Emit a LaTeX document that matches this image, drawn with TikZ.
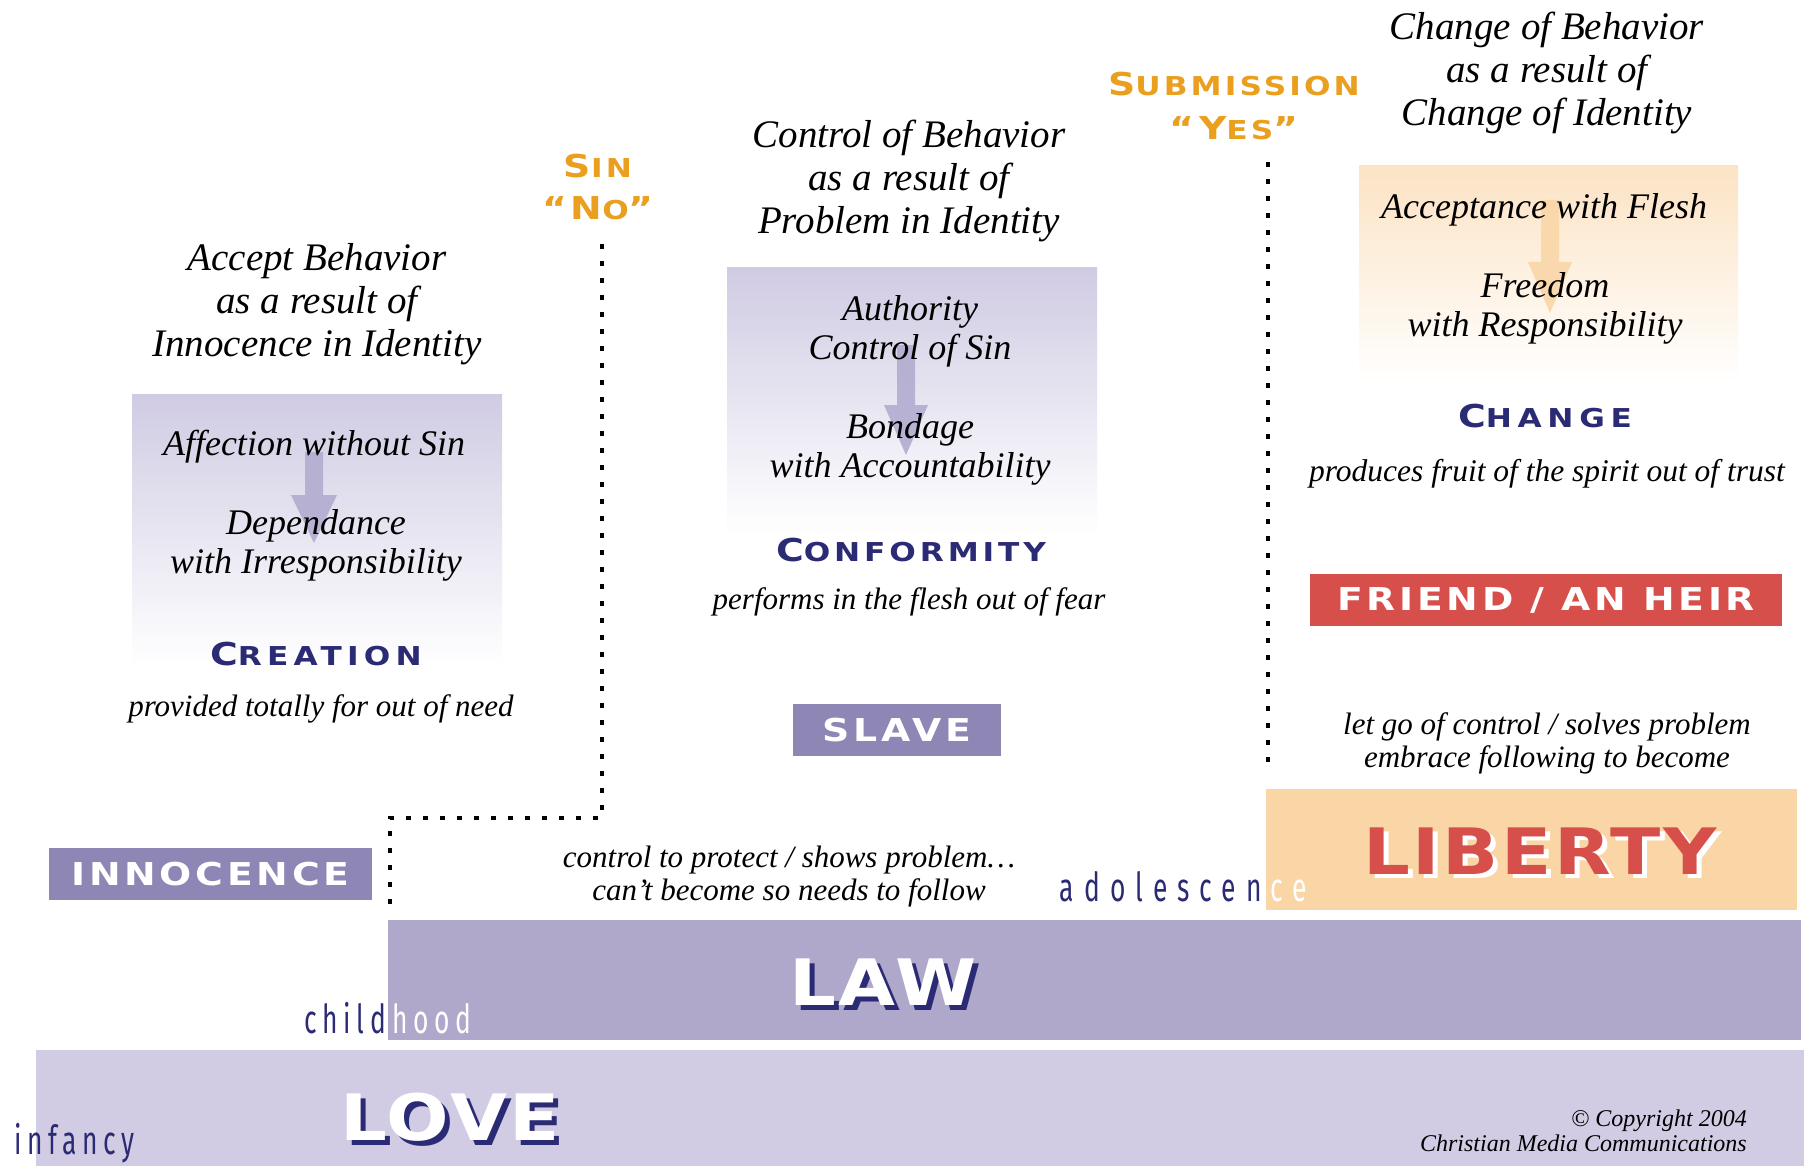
\documentclass[tikz,border=0pt]{standalone}
\usepackage{fontspec}
\setmainfont{Liberation Serif}
\newfontfamily\itf{Liberation Serif}
\newfontfamily\cpf[FakeStretch=1.2,LetterSpace=12]{DejaVu Sans}
\newfontfamily\bigf[FakeStretch=1.15,LetterSpace=4]{DejaVu Sans}
\newfontfamily\stf[FakeStretch=0.66]{Fira Sans}
\definecolor{navy}{RGB}{43,42,116}
\definecolor{orng}{RGB}{234,159,30}
\definecolor{purp}{RGB}{142,135,181}
\definecolor{lawband}{RGB}{175,168,203}
\definecolor{loveband}{RGB}{209,204,227}
\definecolor{libbg}{RGB}{250,214,166}
\definecolor{redc}{RGB}{214,79,74}
\definecolor{lavtop}{RGB}{208,203,227}
\definecolor{orgtop}{RGB}{252,227,196}
\definecolor{arrlav}{RGB}{178,172,208}
\definecolor{arrorg}{RGB}{250,214,168}
\newcommand\CPbig{\fontsize{31.5}{31.5}\selectfont}
\newcommand\CPsml{\fontsize{26}{26}\selectfont}
\newcommand\CPw[2]{{\CPbig #1}{\CPsml #2}}
\tikzset{
  hdr/.style={font=\itf\itshape\fontsize{39}{43}\selectfont, align=center, inner sep=0pt},
  inbox/.style={font=\itf\itshape\fontsize{36}{39}\selectfont, align=center, inner sep=0pt},
  capt/.style={font=\itf\itshape\fontsize{31}{33}\selectfont, align=center, inner sep=0pt},
  cpl/.style={font=\cpf\bfseries, inner sep=0pt},
  navylbl/.style={inner sep=0pt, text=navy, font=\cpf\bfseries\addfontfeature{LetterSpace=#1}},
  orglbl/.style={cpl, text=orng, align=center},
  lblbox/.style={cpl, fill=#1, text=white, minimum height=52pt, font=\cpf\bfseries\CPbig},
  bigtxt/.style={font=\bigf\bfseries\fontsize{64}{64}\selectfont, inner sep=0pt},
  stage/.style={inner sep=0pt, font=\stf\addfontfeature{LetterSpace=#1}\fontsize{40}{40}\selectfont},
  dots/.style={line width=3.5pt, dash pattern=on 5pt off 12pt, black},
  blockarrow/.style={fill=#1, opacity=0.9},
}
\begin{document}
\begin{tikzpicture}[x=1pt,y=-1pt]
\useasboundingbox (0,0) rectangle (1804,1166);
\fill[white] (0,0) rectangle (1804,1166);
% bands
\fill[loveband] (36,1050) rectangle (1804,1166);
\fill[lawband] (388,920) rectangle (1801,1040);
\fill[libbg] (1266,789) rectangle (1797,910);
% gradient boxes
\shade[top color=lavtop, bottom color=white] (132,394) rectangle (502,667);
\shade[top color=lavtop, bottom color=white] (727,268) rectangle (1097,535);
\shade[top color=orgtop, bottom color=white] (1359,166) rectangle (1738,383);
% block arrows
\fill[blockarrow=arrlav] (305,452) -- (323,452) -- (323,495) -- (337,495) -- (314,543) -- (291,495) -- (305,495) -- cycle;
\fill[blockarrow=arrlav] (897,345) -- (915,345) -- (915,405) -- (928,405) -- (906,455) -- (884,405) -- (897,405) -- cycle;
\fill[blockarrow=arrorg] (1541,200) -- (1559,200) -- (1559,262) -- (1572,262) -- (1550,313) -- (1528,262) -- (1541,262) -- cycle;
% dotted lines
\coordinate (s1) at (602,244);
\coordinate (s2) at (602,818);
\coordinate (s3) at (390,818);
\coordinate (s4) at (390,911);
\draw[dots] (s1) -- (s2) -- (s3) -- (s4);
\coordinate (y1) at (1268,162);
\coordinate (y2) at (1268,771);
\draw[dots] (y1) -- (y2);
% orange labels
\node[orglbl] (sin) at (598,166) {\CPw{S}{IN}};
\node[orglbl] (no) at (598,208) {\CPw{“N}{O}{\CPbig ”}};
\node[orglbl] (sub) at (1234,84) {\CPw{S}{UBMISSION}};
\node[orglbl] (yes) at (1234,128) {\CPw{“Y}{ES}{\CPbig ”}};
% headers
\node[hdr] (h1) at (317,304) {Accept Behavior\\as a result of\\Innocence in Identity};
\node[hdr] (h2) at (909,181) {Control of Behavior\\as a result of\\Problem in Identity};
\node[hdr] (h3) at (1547,73) {Change of Behavior\\as a result of\\Change of Identity};
% box texts
\node[inbox] (b1a) at (314,447) {Affection without Sin};
\node[inbox] (b1b) at (316,545) {Dependance\\with Irresponsibility};
\node[inbox] (b2a) at (910,331) {Authority\\Control of Sin};
\node[inbox] (b2b) at (910,449) {Bondage\\with Accountability};
\node[inbox] (b3a) at (1544,210) {Acceptance with Flesh};
\node[inbox] (b3b) at (1545,308) {Freedom\\with Responsibility};
% navy small-caps labels
\node[navylbl=20] (cre) at (316,654) {\CPw{C}{REATION}};
\node[navylbl=15] (con) at (911,550) {\CPw{C}{ONFORMITY}};
\node[navylbl=22] (chg) at (1545,416) {\CPw{C}{HANGE}};
% captions
\node[capt] (c1) at (321,709) {provided totally for out of need};
\node[capt] (c2) at (909,602) {performs in the flesh out of fear};
\node[capt, font=\itf\itshape\fontsize{31.5}{33}\selectfont] (c3) at (1547,474) {produces fruit of the spirit out of trust};
\node[capt] (c4) at (1547,743) {let go of control / solves problem\\embrace following to become};
\node[capt] (c5) at (789,877) {control to protect / shows problem…\\can’t become so needs to follow};
% label boxes
\node[lblbox=purp, minimum width=323pt] (inn) at (210.5,874) {INNOCENCE};
\node[lblbox=purp, minimum width=208pt] (slave) at (897,730) {SLAVE};
\node[lblbox=redc, minimum width=472pt] (friend) at (1546,600) {FRIEND / AN HEIR};
% big words
\node[bigtxt, text=navy] (laws) at (888,987) {LAW};
\node[bigtxt, text=white] (law) at (883,982) {LAW};
\node[bigtxt, text=navy] (loves) at (455,1122) {LOVE};
\node[bigtxt, text=white] (love) at (450,1117) {LOVE};
\node[bigtxt, text=white] (libs) at (1545,855) {LIBERTY};
\node[bigtxt, text=redc] (lib) at (1540,851) {LIBERTY};
% stage words
\node[stage=14, text=navy, anchor=base west] (inf) at (14,1154) {infancy};
\node[stage=14, text=navy, anchor=base east] (child) at (386,1033) {child};
\node[stage=14, text=white, anchor=base west] (hood) at (392,1033) {hood};
\node[stage=25, text=navy, anchor=base east] (ado) at (1262,901) {adolescen};
\node[stage=25, text=white, anchor=base west] (ce) at (1270,901) {ce};
% copyright
\node[font=\itf\itshape\fontsize{24}{25}\selectfont, align=right, anchor=east, inner sep=0pt] (copy) at (1747,1131) {© Copyright 2004\\Christian Media Communications};
\end{tikzpicture}
\end{document}
